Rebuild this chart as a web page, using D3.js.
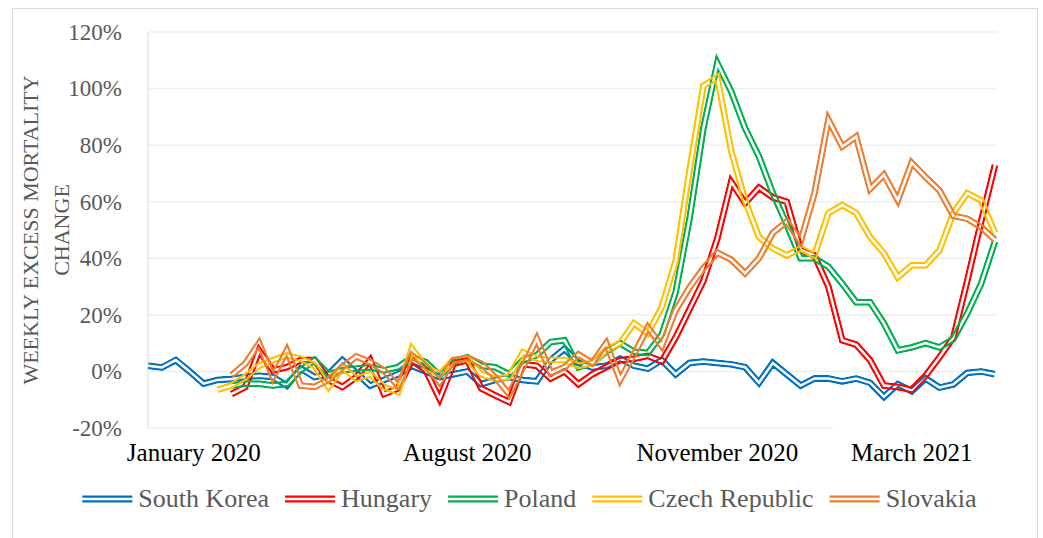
<!DOCTYPE html>
<html>
<head>
<meta charset="utf-8">
<script src="https://cdn.jsdelivr.net/npm/d3@7"></script>
<style>
  body { margin: 0; background: #fff; }
  svg text { font-family: "Liberation Serif", "Times New Roman", serif; }
</style>
</head>
<body>
<svg id="chart" width="1043" height="538"></svg>
<script>
// weekly excess mortality change, % (null = no data for that week)
const southKorea = [2, 1.4, 4, 0, -4.3, -3, -2.7, -2, -1.5, -2, -5, 1, -2, -1, 4, -0.5, -5, -3, -1, 2,
  0, -2, -1, 0, -4.5, -3, -2, -3, -3.5, 4, 8, 3, 1.4, 2, 4.5, 2, 1, 4, -1, 3,
  3.5, 3, 2.5, 1.5, -4, 3, -1, -5, -2.5, -2.5, -3.5, -2.5, -4, -9, -4.5, -7, -2.5, -5.7, -4.6, -0.5,
  0, -1];
const hungary = [null, null, null, null, null, null, -8, -5.5, 7.4, 0.4, 1.5, 4, 4, -3, -5.5, -2, 4, -8, -6, 4,
  0.4, -9.7, 2.7, 4, -6, -8.5, -10.8, 2.5, 2, -2.5, 0, -4.5, -1, 1.5, 4, 4.5, 5.5, 3.5, 12, 22,
  32, 47, 67, 59.5, 65, 61.5, 60, 43, 41, 30, 11, 9.5, 4, -5, -5.5, -6.5, -1.5, 5, 12, 32,
  53, 73];
const poland = [null, null, null, null, null, null, -5, -4.4, -4.4, -5, -4.4, 0.4, 4, -1, 0.4, 1, 1.5, 0.4, 1.5, 5,
  3.3, -1.4, 3.3, 5, 2, 1.5, -1, 4, 5.7, 10.4, 11, 1.5, 3, 7, 10, 7, 6.5, 13, 28, 54,
  86, 109, 99, 86, 76, 63, 52, 40, 40, 37, 31, 24.5, 24.5, 17, 7.5, 8.5, 10, 8.5, 11.5, 20.5,
  31, 46];
const czechRepublic = [null, null, null, null, null, -6.5, -5, -2, 2, 4, 5.7, 4.5, 2, -5.5, 1.5, -2.6, -1, -5.5, -7.3, 8,
  1.5, -1, 4, 4.5, -1, -2.6, -2, 6.8, 4.5, 4, 4, 2, 3, 7.5, 10, 17, 13.5, 22.7, 39, 71,
  101, 104, 78, 60.5, 47.5, 43.5, 41, 43.5, 41, 56, 58.8, 56, 47.5, 41.8, 33.3, 37.5, 37.5, 42.8, 56, 63,
  60.5, 49];
const slovakia = [null, null, null, null, null, null, -1.4, 2.7, 10, -2, 7.4, -5, -5.5, -3, 1.5, 5.3, 3.3, 0.3, -5, 5.7,
  2, -3.8, 4, 4.8, 2.7, -2, -8, 1.5, 11.5, -0.5, 1.5, 6, 3, 10, -3, 6, 15.6, 9, 21.6, 29.7,
  36.5, 42, 39.5, 34.7, 40, 49, 53, 46, 63, 89, 79.5, 83, 64.5, 69.5, 60.5, 73.8, 68.7, 64, 55, 54,
  51, 46.5];

const seriesNames = ["South Korea", "Hungary", "Poland", "Czech Republic", "Slovakia"];
const seriesValues = [southKorea, hungary, poland, czechRepublic, slovakia];
const seriesColors = ["#0070C0", "#FF0000", "#00B050", "#FFC000", "#ED7D31"];

const yTicks = [-20, 0, 20, 40, 60, 80, 100, 120];
const xLabels = ["January 2020", "August 2020", "November 2020", "March 2021"];
const xLabelWeeks = [3.3, 23, 41, 55];

const W = 1043, H = 538;
const svg = d3.select("#chart");

// outer chart border
svg.append("rect")
  .attr("x", 12.5).attr("y", 8.5)
  .attr("width", 1025).attr("height", 560)
  .attr("fill", "#fff").attr("stroke", "#d9d9d9");

const plot = { left: 148, right: 995, top: 32, bottom: 428 };

const x = d3.scaleLinear().domain([0, southKorea.length - 1]).range([plot.left, plot.right]);
const y = d3.scaleLinear().domain([-20, 120]).range([plot.bottom, plot.top]);

// gridlines
svg.append("g")
  .selectAll("line")
  .data(yTicks)
  .join("line")
  .attr("x1", plot.left)
  .attr("x2", d => d === -20 ? 833 : 997)
  .attr("y1", d => y(d)).attr("y2", d => y(d))
  .attr("stroke", "#efefef")
  .attr("stroke-width", 1.5);

svg.append("line")
  .attr("x1", plot.left).attr("x2", plot.left)
  .attr("y1", plot.top).attr("y2", plot.bottom)
  .attr("stroke", "#d9d9d9");

// y tick labels
svg.append("g")
  .selectAll("text")
  .data(yTicks)
  .join("text")
  .attr("x", 122)
  .attr("y", d => y(d))
  .attr("dy", "0.34em")
  .attr("text-anchor", "end")
  .attr("font-size", 23)
  .attr("fill", "#595959")
  .text(d => d + "%");

// y axis title (two lines)
[["WEEKLY EXCESS MORTALITY", 38], ["CHANGE", 69]].forEach(([t, bx]) => {
  svg.append("text")
    .attr("transform", `translate(${bx},${(plot.top + plot.bottom) / 2}) rotate(-90)`)
    .attr("text-anchor", "middle")
    .attr("font-size", 22)
    .attr("fill", "#595959")
    .text(t);
});

// x labels
svg.append("g")
  .selectAll("text")
  .data(xLabels)
  .join("text")
  .attr("x", (d, i) => x(xLabelWeeks[i]))
  .attr("y", 461)
  .attr("text-anchor", "middle")
  .attr("font-size", 25)
  .attr("fill", "#000")
  .text(d => d);

// double (compound) lines: coloured stroke with transparent centre via mask
const defs = svg.append("defs");
const line = d3.line()
  .defined(d => d != null)
  .x((d, i) => x(i))
  .y(d => y(d));

const lines = svg.append("g");
seriesValues.forEach((vals, k) => {
  const path = line(vals);
  const m = defs.append("mask")
    .attr("id", "dbl" + k)
    .attr("maskUnits", "userSpaceOnUse")
    .attr("x", 0).attr("y", 0).attr("width", W).attr("height", H);
  m.append("path").attr("d", path).attr("fill", "none")
    .attr("stroke", "#fff").attr("stroke-width", 7).attr("stroke-linejoin", "miter");
  m.append("path").attr("d", path).attr("fill", "none")
    .attr("stroke", "#000").attr("stroke-width", 2.5).attr("stroke-linejoin", "miter");
  lines.append("path")
    .attr("d", path)
    .attr("fill", "none")
    .attr("stroke", seriesColors[k])
    .attr("stroke-width", 7)
    .attr("stroke-linejoin", "miter")
    .attr("mask", `url(#dbl${k})`);
});

// legend
const legY = 499, sampleW = 50, textGap = 6, itemGap = 16;
const leg = svg.append("g");
const items = seriesNames.map((name, k) => {
  const g = leg.append("g");
  [-2.4, 2.4].forEach(off => {
    g.append("line")
      .attr("x1", 0).attr("x2", sampleW)
      .attr("y1", legY + off).attr("y2", legY + off)
      .attr("stroke", seriesColors[k])
      .attr("stroke-width", 2.3);
  });
  const t = g.append("text")
    .attr("x", sampleW + textGap)
    .attr("y", 507)
    .attr("font-size", 26)
    .attr("fill", "#595959")
    .text(name);
  return { g, w: sampleW + textGap + t.node().getComputedTextLength() };
});
const total = d3.sum(items, d => d.w) + itemGap * (items.length - 1);
let cx = (80 + 979) / 2 - total / 2;
items.forEach(it => {
  it.g.attr("transform", `translate(${cx},0)`);
  cx += it.w + itemGap;
});
</script>
</body>
</html>
